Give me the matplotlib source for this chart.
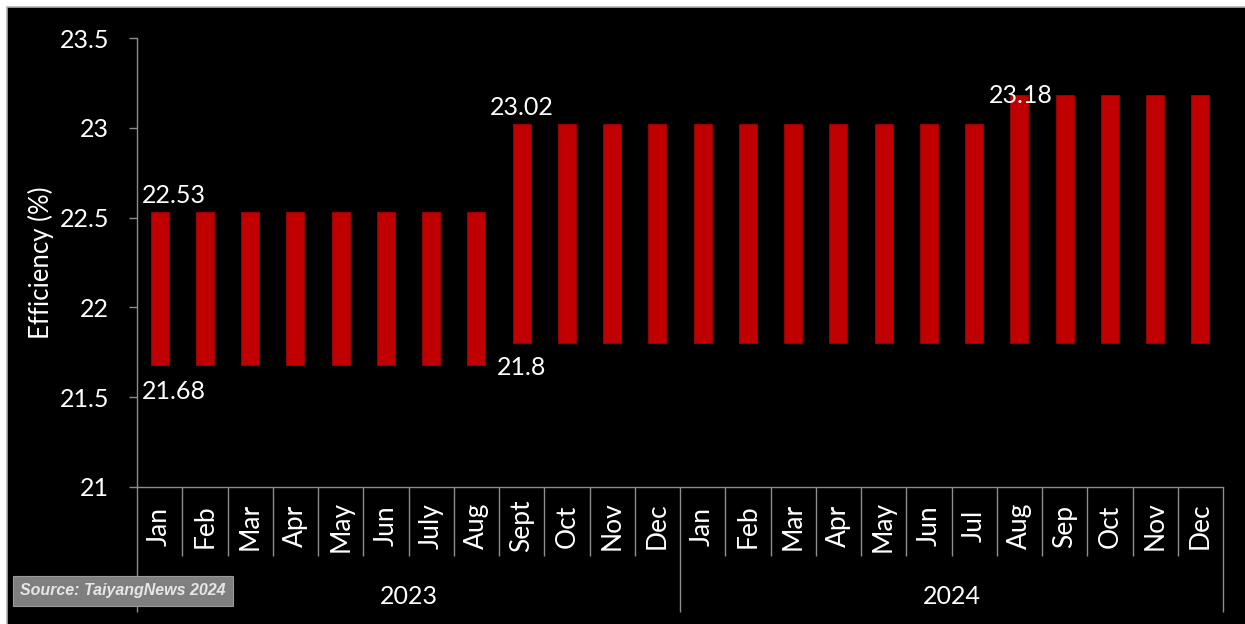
import matplotlib.pyplot as plt
from matplotlib.patches import Rectangle
from matplotlib.transforms import blended_transform_factory

plt.rcParams['font.family'] = ['Lato', 'DejaVu Sans']

# Monthly cell efficiency range (min / max, %)
months = ["Jan", "Feb", "Mar", "Apr", "May", "Jun", "July", "Aug", "Sept", "Oct", "Nov", "Dec",
          "Jan", "Feb", "Mar", "Apr", "May", "Jun", "Jul", "Aug", "Sep", "Oct", "Nov", "Dec"]
years = ["2023", "2024"]
months_per_year = [12, 12]
eff_low = [21.68] * 8 + [21.8] * 4 + [21.8] * 12
eff_high = [22.53] * 8 + [23.02] * 4 + [23.02] * 7 + [23.18] * 5

# Values printed on the chart: (index, which end, offset in points)
labels = [(0, "high", (10, 4)), (0, "low", (10, -11)),
          (8, "high", (0, 4)), (8, "low", (0, -9)),
          (19, "high", (1, 0))]

fig = plt.figure(figsize=(12.45, 6.24), dpi=100, facecolor="white")
fig.patches.append(Rectangle((7 / 1245, -0.05), 1.05, 1.05 - 7 / 624, transform=fig.transFigure,
                             facecolor="black", edgecolor="#b0b0b0", linewidth=1.2, zorder=-5))

ax = fig.add_axes([137 / 1245, 1 - 487 / 624, (1223 - 137) / 1245, (487 - 38) / 624])
ax.set_facecolor("black")
ax.set_zorder(2)

x = list(range(len(months)))
heights = [h - l for h, l in zip(eff_high, eff_low)]
ax.bar(x, heights, bottom=eff_low, width=0.4, color="#C00000", edgecolor="#a00000",
       linewidth=0.6, zorder=2)

ax.set_xlim(-0.5, len(months) - 0.5)
ax.set_ylim(21, 23.5)
ax.set_yticks([21, 21.5, 22, 22.5, 23, 23.5])
ax.set_yticklabels(["21", "21.5", "22", "22.5", "23", "23.5"])

axis_color = "#8c8c8c"
for side in ["top", "right"]:
    ax.spines[side].set_visible(False)
for side in ["left", "bottom"]:
    ax.spines[side].set_color(axis_color)
    ax.spines[side].set_linewidth(1.0)

ax.tick_params(axis="y", colors=axis_color, labelcolor="white", labelsize=18,
               length=6, width=1.0, pad=14)
ax.set_ylabel("Efficiency (%)", color="white", fontsize=18.5, labelpad=4)

# Category separators: short between months, long at year boundaries
bounds = [0]
for n in months_per_year:
    bounds.append(bounds[-1] + n)
year_edges = [b - 0.5 for b in bounds]
month_edges = [i - 0.5 for i in range(1, len(months)) if (i - 0.5) not in year_edges]
ax.set_xticks(year_edges)
ax.set_xticklabels([])
ax.set_xticks(month_edges, minor=True)
ax.tick_params(axis="x", which="major", direction="out", length=90, width=1.0, colors=axis_color)
ax.tick_params(axis="x", which="minor", direction="out", length=50, width=1.0, colors=axis_color)

trans = blended_transform_factory(ax.transData, ax.transAxes)
for i, m in enumerate(months):
    ax.text(i, -0.087, m, rotation=90, ha="center", va="center", color="white",
            fontsize=19, transform=trans)
for y_name, b0, b1 in zip(years, bounds[:-1], bounds[1:]):
    ax.text((b0 + b1 - 1) / 2, -0.243, y_name, ha="center", va="center", color="white",
            fontsize=18, transform=trans)

for idx, end, off in labels:
    val = eff_high[idx] if end == "high" else eff_low[idx]
    va = "bottom" if end == "high" else "top"
    if end == "high" and idx == 19:
        va = "center"
    ax.annotate(f"{val:g}", (idx, val), xytext=off, textcoords="offset points",
                ha="center", va=va, color="white", fontsize=18, zorder=3)

fig.text(20 / 1245, 1 - 591 / 624, "Source: TaiyangNews 2024", fontsize=11.5,
         family=["Liberation Sans", "DejaVu Sans"], style="italic", weight="bold",
         color="#e6e6e6", ha="left", va="center", zorder=10,
         bbox=dict(boxstyle="square,pad=0.45", facecolor="#7f7f7f", edgecolor="#9a9a9a",
                   linewidth=0.8))

fig.savefig("out.png", dpi=100, facecolor=fig.get_facecolor())
